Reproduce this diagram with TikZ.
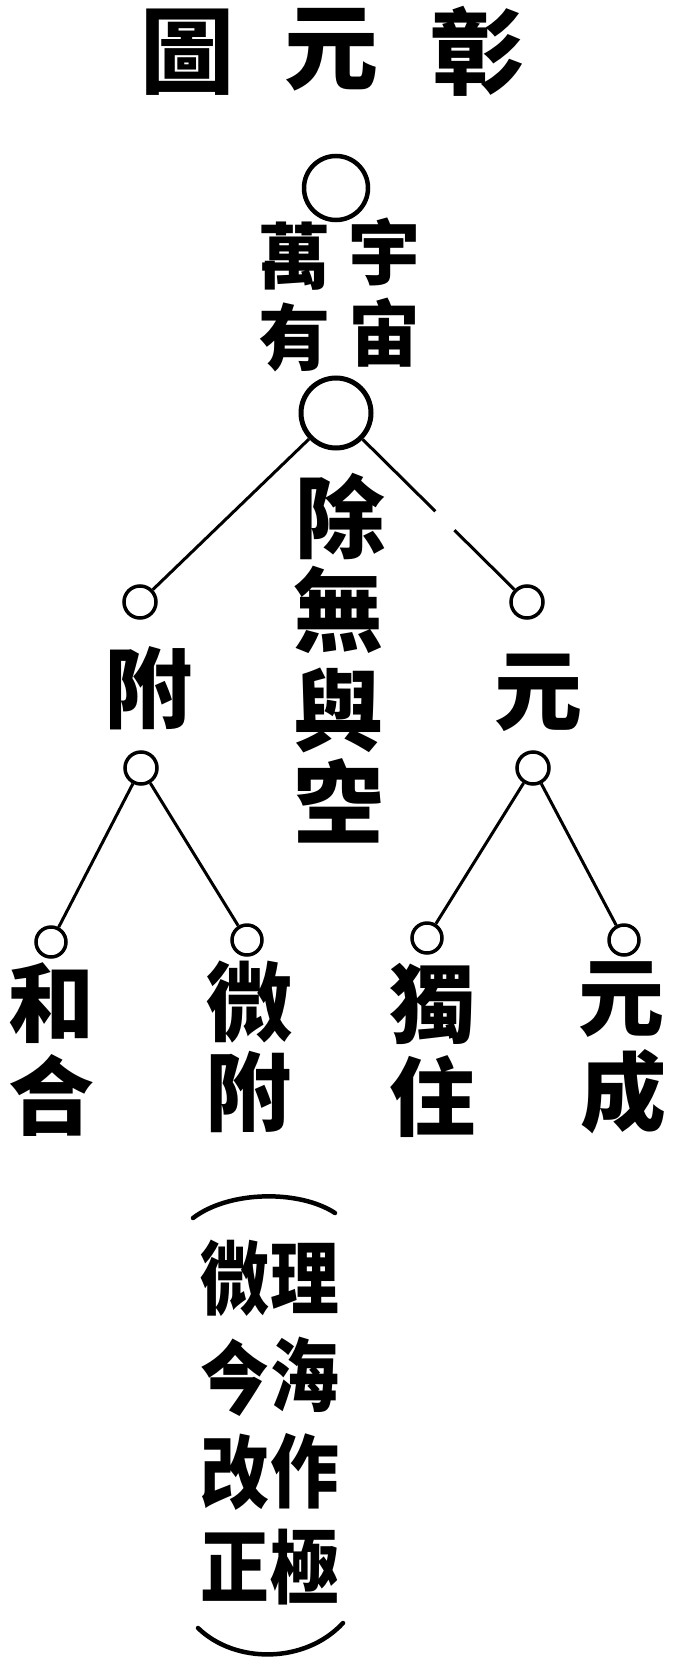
\documentclass[tikz,border=0pt]{standalone}
\usepackage{fontspec}
\newfontfamily\cjk{Noto Sans CJK TC}
\newcommand\narrowch[1]{\scalebox{0.86}[1]{#1}}
\usetikzlibrary{calc}
\begin{document}
\begin{tikzpicture}[x=1pt,y=-1pt,
  ch/.style={inner sep=0pt, font=\cjk\bfseries\fontsize{#1}{#1}\selectfont},
  ring/.style={draw, circle, inner sep=0pt, line width=#1},
  link/.style={line width=3pt},
  brace/.style={line width=4.5pt, line cap=round}]
\useasboundingbox[fill=white] (0,0) rectangle (674,1669);
% title
\node[ch=94] (t1) at (187,52) {圖};
\node[ch=94] (t2) at (331,50) {元};
\node[ch=94] (t3) at (477,51) {彰};
% top circle and text
\node[ring=4.5pt, minimum size=64pt] (c1) at (336,188) {};
\node[ch=72] (k1) at (384,252) {宇};
\node[ch=72] (k2) at (384,333) {宙};
\node[ch=72] (k3) at (294,256) {萬};
\node[ch=72] (k4) at (294,337) {有};
% big circle
\node[ring=5pt, minimum size=70pt] (c2) at (336,413) {};
\node[ch=90] (m1) at (340,516) {除};
\node[ch=90] (m2) at (338,610) {無};
\node[ch=90] (m3) at (338,710) {與};
\node[ch=90] (m4) at (338,801) {空};
% second level
\node[ring=3.5pt, minimum size=32pt] (cL1) at (140,602) {};
\node[ring=3.5pt, minimum size=32pt] (cR1) at (527,602) {};
\node[ch=88] (a1) at (148,688) {附};
\node[ch=88] (a2) at (538,693) {元};
\node[ring=3.5pt, minimum size=32pt] (cL2) at (141,768) {};
\node[ring=3.5pt, minimum size=32pt] (cR2) at (533,768) {};
% leaves
\node[ring=3.5pt, minimum size=30pt] (l1) at (51,942) {};
\node[ring=3.5pt, minimum size=30pt] (l2) at (247,940) {};
\node[ring=3.5pt, minimum size=30pt] (l3) at (427,938) {};
\node[ring=3.5pt, minimum size=30pt] (l4) at (624,940) {};
\node[ch=86] (w1) at (52,1003) {和};
\node[ch=86] (w2) at (52,1095) {合};
\node[ch=86] (w3) at (249,1002) {微};
\node[ch=86] (w4) at (248,1092) {附};
\node[ch=86] (w5) at (432,1004) {獨};
\node[ch=86] (w6) at (432,1097) {住};
\node[ch=86] (w7) at (621,1000) {元};
\node[ch=86] (w8) at (623,1092) {成};
% connectors
\draw[link] (c2) -- (cL1);
\coordinate (gA) at ($(c2)!0.52!(cR1)$);
\coordinate (gB) at ($(c2)!0.62!(cR1)$);
\draw[link] (c2) -- (gA);
\draw[link] (gB) -- (cR1);
\draw[link] (cL2) -- (l1);
\draw[link] (cL2) -- (l2);
\draw[link] (cR2) -- (l3);
\draw[link] (cR2) -- (l4);
% note in brackets
\coordinate (bt1) at (193,1218);
\coordinate (bt2) at (335,1213);
\coordinate (bb1) at (198,1628);
\coordinate (bb2) at (343,1623);
\draw[brace] (bt1) .. controls (230,1190) and (300,1190) .. (bt2);
\draw[brace] (bb1) .. controls (235,1664) and (305,1664) .. (bb2);
\node[ch=80] (n1) at (305,1278) {\narrowch{理}};
\node[ch=80] (n2) at (305,1375) {\narrowch{海}};
\node[ch=80] (n3) at (305,1471) {\narrowch{作}};
\node[ch=80] (n4) at (305,1567) {\narrowch{極}};
\node[ch=80] (n5) at (235,1278) {\narrowch{微}};
\node[ch=80] (n6) at (235,1378) {\narrowch{今}};
\node[ch=80] (n7) at (235,1472) {\narrowch{改}};
\node[ch=80] (n8) at (235,1567) {\narrowch{正}};
\end{tikzpicture}
\end{document}
